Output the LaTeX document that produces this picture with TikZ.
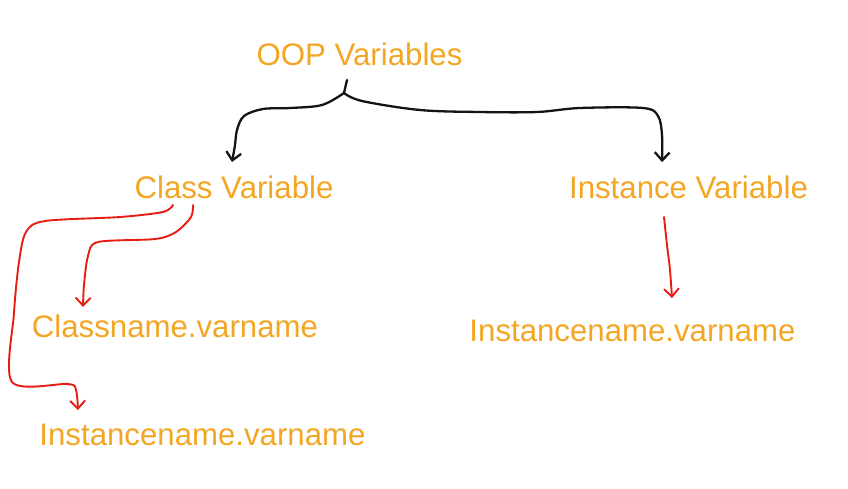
\documentclass[tikz,border=0pt]{standalone}
\usepackage{fontspec}
\setmainfont{Liberation Sans}
\usetikzlibrary{arrows.meta}
\definecolor{txtorange}{RGB}{243,166,35}
\definecolor{penred}{RGB}{232,28,18}
\definecolor{penblack}{RGB}{20,20,20}
\tikzset{
  lbl/.style={anchor=base, inner sep=0pt, text=txtorange, font=\fontsize{31.2}{36}\selectfont},
  blackpen/.style={draw=penblack, line width=2.3pt, line cap=round, line join=round,
    -{Straight Barb[length=8pt,width=15pt,line width=2.3pt]}},
  redpen/.style={draw=penred, line width=1.9pt, line cap=round, line join=round,
    -{Straight Barb[length=8pt,width=15pt,line width=1.9pt]}}
}
\begin{document}
\begin{tikzpicture}[x=1pt,y=-1pt]
\useasboundingbox (0,0) rectangle (848,488);
\fill[white] (0,0) rectangle (848,488);

\node[lbl] (oop)  at (359.5,65)  {OOP Variables};
\node[lbl] (cls)  at (234,198)   {Class Variable};
\node[lbl] (inst) at (688.5,198) {Instance Variable};
\node[lbl] (cn)   at (175,337)   {Classname.varname};
\node[lbl] (inr)  at (632.5,341) {Instancename.varname};
\node[lbl] (inl)  at (202.5,445) {Instancename.varname};

\coordinate (j) at (344,93);
% black brace
\draw[draw=penblack, line width=2.3pt, line cap=round] ([xshift=-12.5pt,yshift=-15pt]oop.base) -- (j);
\draw[blackpen] plot[smooth, tension=0.55] coordinates
  {(j) (322,105) (290,108) (263,109) (244,116) (237,130) (235,145) (232,162)};
\draw[blackpen] plot[smooth, tension=0.55] coordinates
  {(j) (362,101) (420,110) (480,112) (537,112) (580,108) (643,108) (658,116) (662,135) (662,162)};

% red arrows from Class Variable
\draw[redpen] plot[smooth, tension=0.5] coordinates
  {(173,205) (163,212) (120,217) (45,221) (26,232) (19,262) (14,313) (12,382) (68,384) (76,390) (78,410)};
\draw[redpen] plot[smooth, tension=0.5] coordinates
  {(193,205) (191,217) (176,232) (155,239) (98,242) (88,256) (84,285) (83,307)};

% red arrow from Instance Variable
\draw[redpen] plot[smooth, tension=0.5] coordinates
  {(664,217) (667,245) (670,270) (672,298)};
\end{tikzpicture}
\end{document}
